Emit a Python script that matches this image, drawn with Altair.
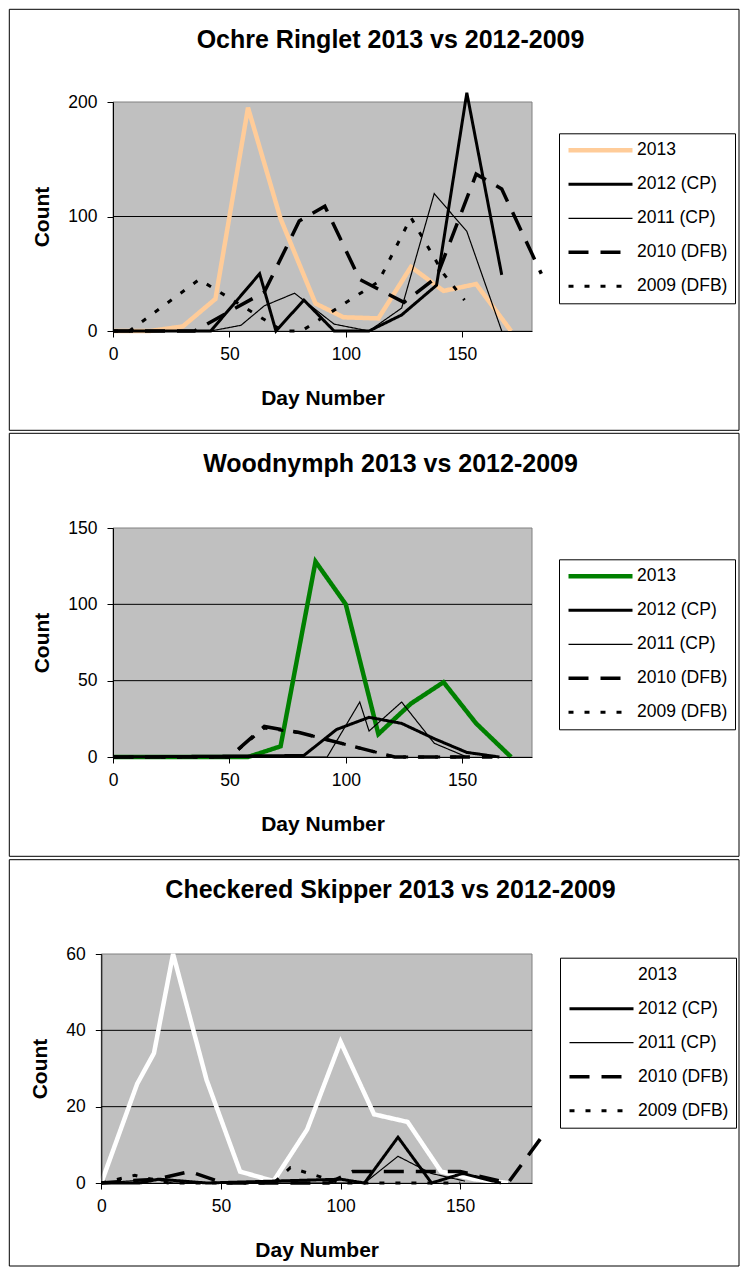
import altair as alt
import pandas as pd

SERIES = ["2013", "2012 (CP)", "2011 (CP)", "2010 (DFB)", "2009 (DFB)"]
FONT = "Liberation Sans"

# ---------------- Panel 1: Ochre Ringlet ----------------
or_2013_x = [0, 16, 30, 44, 58, 72, 87, 99, 114, 128, 142, 156, 171]
or_2013_y = [0, 0, 4, 28, 195, 98, 24, 12, 11, 56, 35, 41, 0]
or_2012_x = [0, 42, 63, 70, 82, 95, 110, 124, 139, 152, 167]
or_2012_y = [0, 0, 50, 0, 27, 0, 0, 14, 40, 208, 49]
or_2011_x = [0, 42, 55, 65, 78, 95, 110, 124, 138, 152, 167]
or_2011_y = [0, 0, 5, 22, 33, 6, 0, 20, 120, 87, 0]
or_2010_x = [0, 35, 65, 80, 91, 106, 125, 139, 156, 167, 184]
or_2010_y = [0, 0, 34, 96, 109, 45, 25, 47, 137, 124, 50]
or_2009_x = [0, 7, 37, 73, 81, 114, 128, 142, 151]
or_2009_y = [0, 0, 45, 0, 0, 43, 99, 50, 27]
or_grid = [100]

# ---------------- Panel 2: Woodnymph ----------------
wn_2013_x = [0, 16, 30, 44, 58, 72, 87, 100, 114, 128, 142, 156, 171]
wn_2013_y = [0, 0, 0, 0, 0, 7, 128, 100, 15, 35, 49, 22, 0]
wn_2012_x = [0, 82, 96, 110, 124, 138, 152, 166]
wn_2012_y = [0, 1, 18, 26, 22, 12, 3, 0]
wn_2011_x = [0, 92, 106, 110, 124, 138, 152]
wn_2011_y = [0, 0, 36, 17, 36, 9, 0]
wn_2010_x = [0, 50, 65, 80, 121, 163]
wn_2010_y = [0, 0, 20, 16, 0, 0]
wn_2009_x = [0, 50, 65, 80, 121, 150]
wn_2009_y = [0, 0, 19, 16, 0, 0]
wn_grid = [50, 100]

# ---------------- Panel 3: Checkered Skipper ----------------
cs_2013_x = [0, 15, 22, 30, 44, 58, 72, 86, 100, 114, 128, 142, 156, 170]
cs_2013_y = [0, 26, 34, 60, 27, 3, 0.5, 14, 37, 18, 16, 3, 1, 0]
cs_2012_x = [0, 16, 24, 44, 100, 110, 124, 138, 151, 167]
cs_2012_y = [0, 0, 1, 0, 1, 0, 12, 0, 2.5, 0]
cs_2011_x = [0, 22, 30, 110, 124, 138, 152]
cs_2011_y = [0, 1, 0, 0, 7, 2.5, 0.5]
cs_2010_x = [0, 10, 23, 37, 51, 95, 105, 150, 170, 184]
cs_2010_y = [0, 0.5, 1, 3, 0, 0, 3, 3, 0, 12]
cs_2009_x = [0, 14, 28, 72, 79, 100, 150]
cs_2009_y = [0, 2, 0, 0, 4, 0, 0]
cs_grid = [20, 40]

WIDTHS = [4.5, 3, 1.2, 3.5, 3]
DASHES = [[1, 0], [1, 0], [1, 0], [20, 12], [5, 11]]

PLOT_W = 419
PLOT_H = 229


def make_df(pairs):
    rows = []
    for name, (xs, ys) in zip(SERIES, pairs):
        for x, y in zip(xs, ys):
            rows.append({"series": name, "day": x, "count": y})
    return pd.DataFrame(rows)


def panel(title, pairs, grid_vals, c2013, ymax, yticks, x0, frame, leg_xy):
    df = make_df(pairs)
    legend = alt.Legend(
        title=None, orient="none", legendX=leg_xy[0], legendY=leg_xy[1],
        symbolType="stroke", symbolSize=4096, symbolStrokeColor="black",
        labelFont=FONT, labelFontSize=17.5, labelColor="black", labelOffset=2,
        clipHeight=20, rowPadding=14, padding=7,
        fillColor="white", strokeColor="black",
    )
    xscale = alt.Scale(domain=[0, 180], range=[x0, PLOT_W], nice=False, zero=False)
    yscale = alt.Scale(domain=[0, ymax], nice=False)
    xaxis = alt.Axis(values=[0, 50, 100, 150], title="Day Number", grid=False,
                     domainColor="black", tickColor="black", tickSize=6,
                     labelFont=FONT, labelFontSize=17.5, labelColor="black",
                     labelPadding=8, titleFont=FONT, titleFontSize=21,
                     titleFontWeight="bold", titleColor="black", titlePadding=25,
                     labelFlush=False, zindex=1)
    yaxis = alt.Axis(values=yticks, title="Count", grid=False, offset=-x0,
                     domainColor="black", tickColor="black", tickSize=6,
                     labelFont=FONT, labelFontSize=17.5, labelColor="black",
                     labelPadding=10, titleFont=FONT, titleFontSize=21,
                     titleFontWeight="bold", titleColor="black", titlePadding=15,
                     labelFlush=False, zindex=1)
    lines = alt.Chart(df).mark_line(strokeJoin="miter", strokeCap="butt").encode(
        x=alt.X("day:Q", scale=xscale, axis=xaxis),
        y=alt.Y("count:Q", scale=yscale, axis=yaxis),
        color=alt.Color("series:N", scale=alt.Scale(domain=SERIES, range=[c2013] + ["black"] * 4),
                        legend=legend),
        strokeWidth=alt.StrokeWidth("series:N",
                                    scale=alt.Scale(type="ordinal", domain=SERIES, range=WIDTHS),
                                    legend=legend),
        strokeDash=alt.StrokeDash("series:N", scale=alt.Scale(domain=SERIES, range=DASHES),
                                  legend=legend),
    )
    grid = alt.Chart(pd.DataFrame({"count": grid_vals})).mark_rule(
        color="black", strokeWidth=1
    ).encode(
        y=alt.Y("count:Q", scale=yscale, axis=yaxis),
        x=alt.value(x0), x2=alt.value(PLOT_W),
    )
    one = pd.DataFrame({"k": [0]})
    bg = alt.Chart(one).mark_rect(fill="#C0C0C0", stroke="#808080", strokeWidth=1).encode(
        x=alt.value(x0), x2=alt.value(PLOT_W), y=alt.value(0), y2=alt.value(PLOT_H)
    )
    fl, fr, ft, fb = frame
    border = alt.Chart(one).mark_rect(fill="transparent", stroke="black", strokeWidth=1).encode(
        x=alt.value(fl), x2=alt.value(fr), y=alt.value(ft), y2=alt.value(fb)
    )
    return alt.layer(border, bg, grid, lines).properties(
        width=PLOT_W, height=PLOT_H,
        title=alt.TitleParams(title, font=FONT, fontSize=25, fontWeight="bold", color="black",
                              anchor="middle", frame="group", offset=-44, dx=68),
    ).resolve_scale(color="independent", strokeWidth="independent", strokeDash="independent")


p1 = panel("Ochre Ringlet 2013 vs 2012-2009",
           [(or_2013_x, or_2013_y), (or_2012_x, or_2012_y), (or_2011_x, or_2011_y),
            (or_2010_x, or_2010_y), (or_2009_x, or_2009_y)], or_grid,
           "#FFCC99", 200, [0, 100, 200], 0,
           (-103.7, 626, -92.7, 328.3), (446, 31.3))
p2 = panel("Woodnymph 2013 vs 2012-2009",
           [(wn_2013_x, wn_2013_y), (wn_2012_x, wn_2012_y), (wn_2011_x, wn_2011_y),
            (wn_2010_x, wn_2010_y), (wn_2009_x, wn_2009_y)], wn_grid,
           "#008000", 150, [0, 50, 100, 150], 0,
           (-103.7, 626, -94.7, 328.3), (446, 31.3))
p3 = panel("Checkered Skipper 2013 vs 2012-2009",
           [(cs_2013_x, cs_2013_y), (cs_2012_x, cs_2012_y), (cs_2011_x, cs_2011_y),
            (cs_2010_x, cs_2010_y), (cs_2009_x, cs_2009_y)], cs_grid,
           "#FFFFFF", 60, [0, 20, 40, 60], -11.7,
           (-103.7, 626, -94.3, 312), (447, 3.7))

chart = alt.vconcat(p1, p2, p3, spacing=0).resolve_scale(
    x="independent", y="independent", color="independent",
    strokeWidth="independent", strokeDash="independent"
).resolve_legend(color="independent", strokeWidth="independent", strokeDash="independent"
).properties(padding=0).configure_view(stroke="transparent")

chart.save("out.html", embed_options={"renderer": "svg", "actions": False})
